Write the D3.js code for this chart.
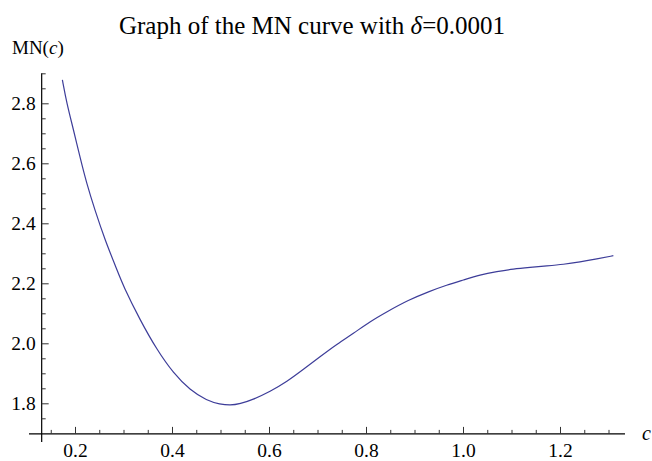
<!DOCTYPE html>
<html>
<head>
<meta charset="utf-8">
<script src="https://cdn.jsdelivr.net/npm/d3@7"></script>
<style>
  body { margin: 0; background: #fff; }
  svg { display: block; font-family: "Liberation Serif", "Times New Roman", serif; }
  svg text { font-family: "Liberation Serif", "Times New Roman", serif; }
</style>
</head>
<body>
<svg id="chart" width="652" height="461"></svg>
<script>
const svg = d3.select("#chart");

// curve: c values and MN(c) values
const cValues = [0.174, 0.183, 0.197, 0.210, 0.224, 0.241, 0.262, 0.286, 0.300, 0.334,
  0.369, 0.403, 0.437, 0.472, 0.499, 0.520, 0.540, 0.568, 0.602, 0.637,
  0.671, 0.705, 0.740, 0.774, 0.808, 0.843, 0.887, 0.932, 0.966, 1.001,
  1.035, 1.070, 1.104, 1.138, 1.173, 1.207, 1.241, 1.276, 1.310];
const mnValues = [2.878, 2.800, 2.711, 2.622, 2.533, 2.444, 2.344, 2.247, 2.189, 2.078,
  1.978, 1.900, 1.844, 1.809, 1.797, 1.793, 1.798, 1.813, 1.839, 1.872,
  1.913, 1.955, 1.997, 2.033, 2.072, 2.105, 2.144, 2.174, 2.194, 2.211,
  2.228, 2.239, 2.248, 2.253, 2.258, 2.263, 2.271, 2.281, 2.292];

const xMajor = [0.2, 0.4, 0.6, 0.8, 1.0, 1.2];
const xMinor = [0.15, 0.25, 0.3, 0.35, 0.45, 0.5, 0.55, 0.65, 0.7, 0.75, 0.85, 0.9, 0.95, 1.05, 1.1, 1.15, 1.25, 1.3];
const yMajor = [1.8, 2.0, 2.2, 2.4, 2.6, 2.8];
const yMinor = [1.75, 1.85, 1.9, 1.95, 2.05, 2.1, 2.15, 2.25, 2.3, 2.35, 2.45, 2.5, 2.55, 2.65, 2.7, 2.75, 2.85, 2.9];

const xDomain = [0.1313, 1.334];
const yDomain = [1.698, 2.9];

const x = d3.scaleLinear().domain([0.2, 1.2]).range([75, 560]);
const y = d3.scaleLinear().domain([1.8, 2.8]).range([403.3, 103.3]);

const x0 = x(xDomain[0]);
const y0 = y(yDomain[0]);

const lineColor = "#3d3d99";

// title
const title = svg.append("text")
    .attr("x", 312)
    .attr("y", 34)
    .attr("text-anchor", "middle")
    .style("font-size", "25px")
    .attr("fill", "#000");
title.append("tspan").text("Graph of the MN curve with ");
title.append("tspan").style("font-style", "italic").text("\u03b4");
title.append("tspan").text("=0.0001");

// axis lines
svg.append("line")
    .attr("x1", 29).attr("x2", x(xDomain[1]))
    .attr("y1", y0).attr("y2", y0)
    .attr("stroke", "#000").attr("stroke-width", 1.2);
svg.append("line")
    .attr("x1", x0).attr("x2", x0)
    .attr("y1", y(yDomain[1])).attr("y2", y0 + 8)
    .attr("stroke", "#000").attr("stroke-width", 1.2);

// x ticks
const xAxis = svg.append("g")
    .attr("transform", `translate(0,${y0})`)
    .call(d3.axisBottom(x).tickValues(xMajor).tickFormat(d3.format(".1f"))
      .tickSizeInner(-7).tickSizeOuter(0).tickPadding(9));
const xAxisMinor = svg.append("g")
    .attr("transform", `translate(0,${y0})`)
    .call(d3.axisBottom(x).tickValues(xMinor).tickFormat("")
      .tickSizeInner(-4).tickSizeOuter(0));

// y ticks
const yAxis = svg.append("g")
    .attr("transform", `translate(${x0},0)`)
    .call(d3.axisLeft(y).tickValues(yMajor).tickFormat(d3.format(".1f"))
      .tickSizeInner(-7).tickSizeOuter(0).tickPadding(6));
const yAxisMinor = svg.append("g")
    .attr("transform", `translate(${x0},0)`)
    .call(d3.axisLeft(y).tickValues(yMinor).tickFormat("")
      .tickSizeInner(-4).tickSizeOuter(0));

[xAxis, xAxisMinor, yAxis, yAxisMinor].forEach(g => {
  g.attr("font-family", null).attr("font-size", null);
  g.select(".domain").remove();
  g.selectAll(".tick line").attr("stroke", "#333").attr("stroke-width", 1);
  g.selectAll("text")
    .style("font-family", "'Liberation Serif', 'Times New Roman', serif")
    .style("font-size", "19.5px")
    .attr("fill", "#000");
});

// axis labels
const yLabel = svg.append("text")
    .attr("x", 12).attr("y", 54)
    .style("font-size", "19px").attr("fill", "#000");
yLabel.append("tspan").text("MN(");
yLabel.append("tspan").style("font-style", "italic").text("c");
yLabel.append("tspan").text(")");

svg.append("text")
    .attr("x", 642).attr("y", 440)
    .style("font-size", "20px").style("font-style", "italic")
    .attr("fill", "#000")
    .text("c");

// curve
const points = cValues.map((c, i) => [c, mnValues[i]]);
const line = d3.line()
    .x(d => x(d[0]))
    .y(d => y(d[1]))
    .curve(d3.curveBasis);

svg.append("path")
    .datum(points)
    .attr("fill", "none")
    .attr("stroke", lineColor)
    .attr("stroke-width", 1.2)
    .attr("d", line);
</script>
</body>
</html>
